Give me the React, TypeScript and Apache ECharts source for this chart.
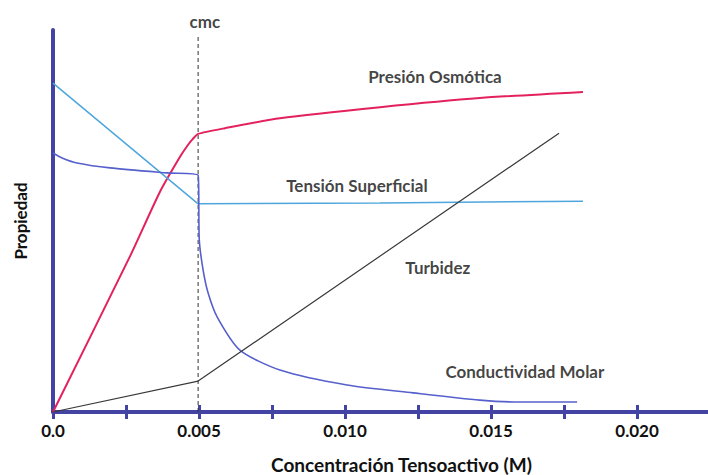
import React, { useEffect, useRef } from "react";
import * as echarts from "echarts";

// Concentración (M) and property values (arbitrary units 0-100)
const presionX = [0, 0.00264, 0.00366, 0.00435, 0.00462, 0.00479, 0.00497, 0.00589, 0.00777, 0.0112, 0.01462, 0.01815];
const presionY = [0, 40.8, 57.6, 66.8, 69.9, 71.5, 72.8, 74.3, 76.9, 79.8, 82.2, 83.8];

const tensionX = [0, 0.00497, 0.0112, 0.01815];
const tensionY = [86.1, 54.5, 54.7, 55.2];

const conductX = [0, 0.00031, 0.00082, 0.00195, 0.0039, 0.00497, 0.00501, 0.00514, 0.00531, 0.00562, 0.0064, 0.00777, 0.01007, 0.01233, 0.01462, 0.016, 0.01795];
const conductY = [67.8, 66.5, 65.2, 63.9, 62.6, 62.0, 45.0, 37.2, 31.2, 24.9, 16.2, 11.0, 7.07, 5.0, 3.1, 2.6, 2.6];

const turbidezX = [0, 0.00497, 0.01733];
const turbidezY = [0, 8.1, 73.0];

const cmc = 0.00497;
const cmcLineY = [0, 98.2];

const labelNames = ["Presión Osmótica", "Tensión Superficial", "Turbidez", "Conductividad Molar", "cmc"];
const labelX = [0.01308, 0.01041, 0.01318, 0.01616, 0.0052];
const labelY = [87.7, 59.4, 37.7, 10.5, 102.1];

const xMin = 0;
const xMax = 0.0225;
const xInterval = 0.0025;
const xAxisName = "Concentración Tensoactivo (M)";
const yAxisName = "Propiedad";

const zip = (xs: number[], ys: number[]) => xs.map((x, i) => [x, ys[i]]);

const AXIS = "#4343a3";
const FONT = "Lato";

export default function App() {
  const ref = useRef<HTMLDivElement>(null);
  useEffect(() => {
    if (!ref.current) return;
    const chart = echarts.init(ref.current, undefined, { renderer: "svg" });
    const fmt = (v: number) => {
      if (Math.abs(v) < 1e-9) return "0.0";
      const k = v / 0.005;
      if (Math.abs(k - Math.round(k)) < 1e-6) return v.toFixed(3);
      return "";
    };
    chart.setOption({
      animation: false,
      backgroundColor: "#ffffff",
      grid: { left: 53, top: 30, width: 657, bottom: 63, containLabel: false, outerBoundsMode: "none" },
      xAxis: [
        {
          type: "value",
          min: xMin,
          max: xMax,
          interval: xInterval,
          name: xAxisName,
          nameLocation: "middle",
          nameGap: 43,
          nameTextStyle: { fontFamily: FONT, fontWeight: "bold", fontSize: 19, lineHeight: 19, color: "#111", padding: [0, 0, 0, 40] },
          axisLine: { show: true, onZero: false, lineStyle: { color: AXIS, width: 4 } },
          axisTick: { show: true, inside: false, length: 7, lineStyle: { color: AXIS, width: 3 } },
          axisLabel: { show: true, formatter: fmt, margin: 10, fontFamily: FONT, fontWeight: "bold", fontSize: 17, color: "#111" },
          splitLine: { show: false },
        },
        {
          type: "value",
          gridIndex: 0,
          position: "bottom",
          min: xMin,
          max: xMax,
          interval: xInterval,
          axisLine: { show: false, onZero: false },
          axisTick: { show: true, inside: true, length: 7, lineStyle: { color: AXIS, width: 3 } },
          axisLabel: { show: false },
          splitLine: { show: false },
        },
      ],
      yAxis: {
        type: "value",
        min: 0,
        max: 100,
        name: yAxisName,
        nameLocation: "middle",
        nameGap: 24,
        nameRotate: 90,
        nameTextStyle: { fontFamily: FONT, fontWeight: "bold", fontSize: 17, color: "#111" },
        axisLine: { show: true, onZero: false, lineStyle: { color: AXIS, width: 4 } },
        axisTick: { show: false },
        axisLabel: { show: false },
        splitLine: { show: false },
      },
      series: [
        {
          name: "Presión Osmótica",
          type: "line",
          data: zip(presionX, presionY),
          symbol: "none",
          smooth: 0.2,
          lineStyle: { color: "#e3215c", width: 2 },
          z: 3,
        },
        {
          name: "Tensión Superficial",
          type: "line",
          data: zip(tensionX, tensionY),
          symbol: "none",
          lineStyle: { color: "#4fa6dc", width: 1.5 },
          z: 3,
        },
        {
          name: "Conductividad Molar",
          type: "line",
          data: zip(conductX, conductY),
          symbol: "none",
          smooth: 0.25,
          lineStyle: { color: "#5660cc", width: 1.6 },
          z: 3,
        },
        {
          name: "Turbidez",
          type: "line",
          data: zip(turbidezX, turbidezY),
          symbol: "none",
          lineStyle: { color: "#3a3a3a", width: 1.2 },
          z: 3,
        },
        {
          name: "cmc",
          type: "line",
          data: cmcLineY.map((y) => [cmc, y]),
          symbol: "none",
          lineStyle: { color: "#333", width: 1, type: [4, 3] },
          z: 2,
        },
        {
          name: "labels",
          type: "scatter",
          clip: false,
          silent: true,
          symbolSize: 1,
          itemStyle: { color: "rgba(0,0,0,0)" },
          data: labelNames.map((n, i) => ({ name: n, value: [labelX[i], labelY[i]] })),
          label: {
            show: true,
            position: "inside",
            formatter: "{b}",
            fontFamily: FONT,
            fontWeight: "bold",
            fontSize: 17,
            color: "#111",
          },
          z: 5,
        },
      ],
    });
    return () => chart.dispose();
  }, []);
  return <div ref={ref} style={{ position: "fixed", left: 0, top: 0, width: 708, height: 475 }} />;
}
